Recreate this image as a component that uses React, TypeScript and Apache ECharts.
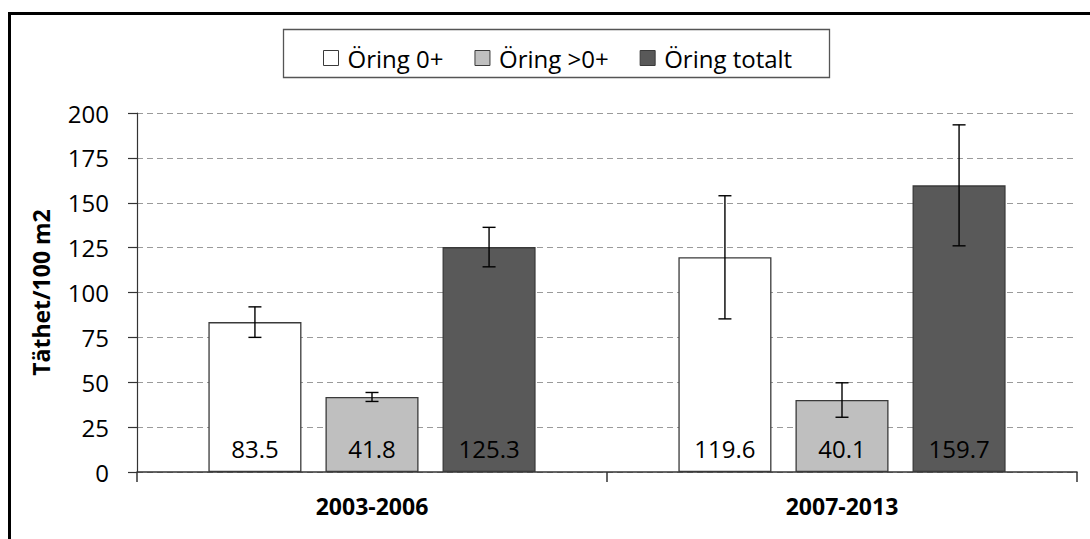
import React, { useEffect, useRef } from "react";
import * as echarts from "echarts";

const categories = ["2003-2006", "2007-2013"];
const seriesNames = ["Öring 0+", "Öring >0+", "Öring totalt"];
const oring0 = [83.5, 119.6];
const oringOver0 = [41.8, 40.1];
const oringTotal = [125.3, 159.7];
const err0 = [8.5, 34.3];
const errOver0 = [2.5, 9.6];
const errTotal = [11.0, 33.7];
const yTicks = [0, 25, 50, 75, 100, 125, 150, 175, 200];

const FONT = "'Open Sans', 'Liberation Sans', sans-serif";
const colors = ["#FFFFFF", "#BFBFBF", "#595959"];
const BAR_W = 0.198;
const BAR_GAP = 0.258;

export default function App() {
  const ref = useRef<HTMLDivElement>(null);
  useEffect(() => {
    if (!ref.current) return;
    const chart = echarts.init(ref.current, null, { renderer: "svg" });
    const values = [oring0, oringOver0, oringTotal];
    const errs = [err0, errOver0, errTotal];
    const errData: number[][] = [];
    values.forEach((vals, s) => {
      vals.forEach((v, c) => {
        errData.push([c, s, v - errs[s][c], v + errs[s][c]]);
      });
    });
    const bars = values.map((vals, s) => ({
      name: seriesNames[s],
      type: "bar",
      data: vals,
      barWidth: BAR_W * 100 + "%",
      barGap: BAR_GAP * 100 + "%",
      itemStyle: { color: colors[s], borderColor: "#3a3a3a", borderWidth: 1.3 },
      label: {
        show: true,
        position: "insideBottom",
        distance: 12,
        color: "#000",
        fontFamily: FONT,
        fontSize: 24,
        formatter: (p: any) => p.value.toFixed(1),
      },
      z: 2,
    }));
    chart.setOption({
      animation: false,
      backgroundColor: "#fff",
      textStyle: { fontFamily: FONT },
      graphic: [
        {
          type: "rect",
          shape: { x: 9.5, y: 13.5, width: 1200, height: 700 },
          style: { fill: "none", stroke: "#000", lineWidth: 3 },
          silent: true,
        },
        {
          type: "rect",
          shape: { x: 283.5, y: 29.5, width: 546, height: 48 },
          style: { fill: "#fff", stroke: "#555", lineWidth: 1.3 },
          z: -1,
          silent: true,
        },
      ],
      legend: {
        left: 318,
        top: 41,
        itemWidth: 15,
        itemHeight: 15,
        itemGap: 31,
        icon: "rect",
        textStyle: { fontFamily: FONT, fontSize: 24, color: "#000", padding: [0, 0, 0, 4] },
        data: seriesNames.map((n, i) => ({
          name: n,
          itemStyle: { color: colors[i], borderColor: "#3a3a3a", borderWidth: 1 },
        })),
      },
      grid: { left: 137, right: 13, top: 113, bottom: 67, containLabel: false },
      xAxis: {
        type: "category",
        data: categories,
        axisLine: { lineStyle: { color: "#333", width: 1.5 } },
        axisTick: { show: true, length: 10, alignWithLabel: false, interval: 0, lineStyle: { color: "#333", width: 1.5 } },
        axisLabel: { fontFamily: FONT, fontSize: 23, fontWeight: "bold", color: "#000", margin: 22 },
      },
      yAxis: {
        type: "value",
        min: yTicks[0],
        max: yTicks[yTicks.length - 1],
        interval: 25,
        name: "Täthet/100 m2",
        nameLocation: "middle",
        nameGap: 85,
        nameTextStyle: { fontFamily: FONT, fontSize: 23, fontWeight: "bold", color: "#000" },
        axisLine: { show: true, lineStyle: { color: "#333", width: 1.2 } },
        axisTick: { show: true, length: 9, lineStyle: { color: "#333", width: 1.2 } },
        axisLabel: { fontFamily: FONT, fontSize: 24, color: "#000", margin: 28 },
        splitLine: { lineStyle: { color: "#9a9a9a", type: [6, 4], width: 1.2 } },
      },
      series: [
        ...bars,
        {
          type: "custom",
          name: "err",
          data: errData,
          z: 5,
          silent: true,
          renderItem: (params: any, api: any) => {
            const c = api.value(0);
            const s = api.value(1);
            const catW = api.size([1, 0])[0];
            const barW = catW * BAR_W;
            const step = barW * (1 + BAR_GAP);
            const x = api.coord([c, 0])[0] + (s - 1) * step;
            const yl = api.coord([c, api.value(2)])[1];
            const yh = api.coord([c, api.value(3)])[1];
            const cap = 6.5;
            const st = { stroke: "#000", lineWidth: 1.4 };
            return {
              type: "group",
              children: [
                { type: "line", shape: { x1: x, y1: yl, x2: x, y2: yh }, style: st },
                { type: "line", shape: { x1: x - cap, y1: yl, x2: x + cap, y2: yl }, style: st },
                { type: "line", shape: { x1: x - cap, y1: yh, x2: x + cap, y2: yh }, style: st },
              ],
            };
          },
        },
      ],
    });
    return () => chart.dispose();
  }, []);
  return (
    <div
      ref={ref}
      style={{ position: "absolute", left: 0, top: 0, width: 1090, height: 539 }}
    />
  );
}
